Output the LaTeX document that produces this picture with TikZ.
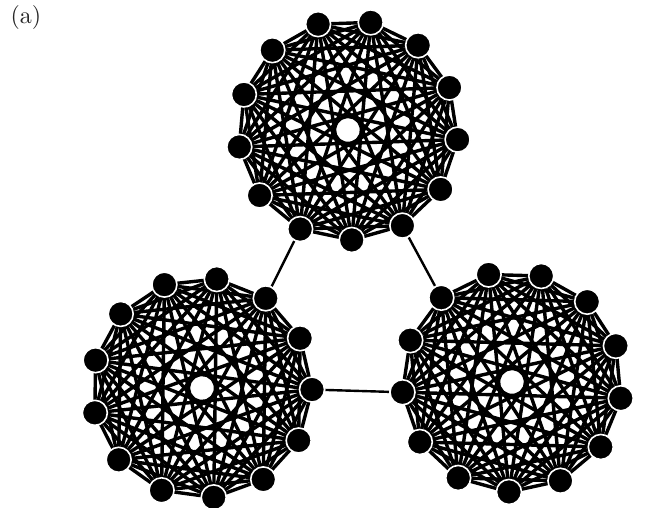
\documentclass[tikz,border=0pt]{standalone}
\pgfdeclarelayer{edges}
\pgfsetlayers{edges,main}
\begin{document}
\begin{tikzpicture}[x=1pt,y=-1pt,
  vtx/.style={circle,fill=black,draw=white,line width=1.6pt,minimum size=25pt,inner sep=0pt},
  kedge/.style={draw=black,line width=3.4pt},
  link/.style={line width=2.4pt,black}]
\useasboundingbox (0,0) rectangle (661,507);
\node[inner sep=0pt,scale=2.4,transform shape,text=black!85] (lab) at (26,17) {(a)};
\foreach \name/\cx/\cy/\off in {T/348/130/5, L/202/388/0.8, R/512/382/8.5}{
  \foreach \k in {1,...,13}{
    \node[vtx] (\name\k) at ({\cx+110*cos(\off+27.6923*(\k-1))},{\cy+110*sin(\off+27.6923*(\k-1))}) {};
  }
  \begin{pgfonlayer}{edges}
  \foreach \i in {1,...,12}{
    \pgfmathtruncatemacro\s{\i+1}
    \foreach \j in {\s,...,13}{
      \draw[kedge] (\name\i.center) -- (\name\j.center);
    }
  }
  \end{pgfonlayer}
}
\begin{pgfonlayer}{edges}
\draw[link] (T5) -- (L12);
\draw[link] (T3) -- (R9);
\draw[link] (L1) -- (R7);
\end{pgfonlayer}
\end{tikzpicture}
\end{document}
